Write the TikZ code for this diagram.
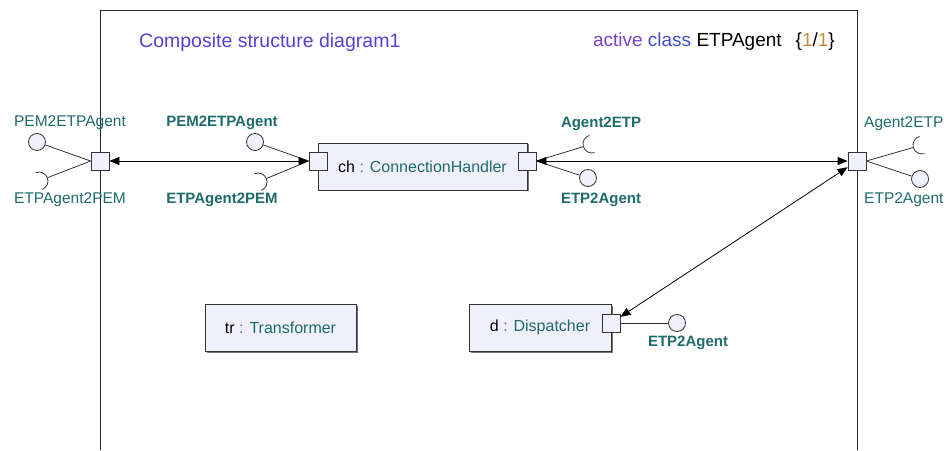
\documentclass[tikz,border=0pt]{standalone}
\usepackage{fontspec}
\setmainfont{Liberation Sans}
\usepackage{xcolor}
\usetikzlibrary{arrows.meta, calc, shadows}

\definecolor{lbl}{HTML}{1E6B6B}
\definecolor{ttl}{HTML}{5A3ED6}
\definecolor{act}{HTML}{7B3FC8}
\definecolor{cls}{HTML}{3D4FD0}
\definecolor{num}{HTML}{C8883C}
\definecolor{colon}{HTML}{6A5ACD}
\definecolor{boxfill}{HTML}{F0F0FC}

% socket: half circle opening away from the port
\newcommand{\sock}[2]{%
  \draw[wire] let \p1=($(#2)-(#1)$), \n1={atan2(\y1,\x1)} in
    ([shift={(\n1-90:9pt)}]#1) arc[start angle=\n1-90, end angle=\n1+90, radius=9pt];}

\begin{document}
\begin{tikzpicture}[x=1pt, y=1pt,
  wire/.style = {draw=black!80, line width=0.8pt},
  conn/.style = {draw=black, line width=0.8pt, {Triangle[length=10pt,width=8pt]}-{Triangle[length=10pt,width=8pt]}},
  part/.style = {draw=black!80, line width=0.8pt, fill=boxfill, inner sep=0pt,
                 drop shadow={shadow xshift=1.5pt, shadow yshift=-1.5pt, fill=black!55, opacity=1},
                 font=\fontsize{16}{19}\selectfont},
  port/.style = {draw=black!80, line width=0.8pt, fill=boxfill, minimum size=18pt, inner sep=0pt,
                 drop shadow={shadow xshift=1.2pt, shadow yshift=-1.2pt, fill=black!55, opacity=1}},
  ball/.style = {draw=black!80, line width=0.8pt, fill=boxfill, circle, minimum size=17pt, inner sep=0pt},
  iname/.style = {text=lbl, font=\fontsize{15.5}{18}\selectfont, inner sep=0pt},
  inamein/.style = {text=lbl, font=\fontsize{15}{18}\selectfont\bfseries, inner sep=0pt}]
  \useasboundingbox (0,0) rectangle (949,450);

  % frame of the class
  \draw[black!85, line width=0.8pt] (100,0) -- (100,440) -- (857,440) -- (857,0);

  \node[anchor=west, text=ttl, font=\fontsize{19.5}{22}\selectfont, inner sep=0pt] (title) at (139,408) {Composite structure diagram1};
  \node[anchor=east, font=\fontsize{19}{22}\selectfont, inner sep=0pt] (kind) at (835,408)
    {\textcolor{act}{active} \textcolor{cls}{class} ETPAgent\hspace{14pt}\{\textcolor{num}{1}/\textcolor{num}{1}\}};

  % parts
  \node[part, minimum width=209pt, minimum height=47pt] (ch) at (422.5,283.5)
    {ch \textcolor{colon}{:} \textcolor{lbl}{ConnectionHandler}};
  \node[part, minimum width=151pt, minimum height=47pt] (tr) at (280.5,122.5)
    {tr \textcolor{colon}{:} \textcolor{lbl}{Transformer}};
  \node[part, minimum width=142pt, minimum height=47pt] (d) at (540,122.5)
    {d \textcolor{colon}{:} \textcolor{lbl}{Dispatcher}};

  % ports
  \node[port] (pl) at (100,289) {};
  \node[port] (pr) at (857,289) {};
  \node[port] (chL) at (318,289) {};
  \node[port] (chR) at (527,289) {};
  \node[port] (dp) at (611,127) {};

  % provided interfaces
  \node[ball] (b1) at (37,308) {};
  \node[ball] (b2) at (255,308) {};
  \node[ball] (b3) at (588,272) {};
  \node[ball] (b4) at (920,271) {};
  \node[ball] (b5) at (677,127) {};

  % required interfaces
  \coordinate (s1) at (39,269);
  \coordinate (s2) at (258,268);
  \coordinate (s3) at (592,306);
  \coordinate (s4) at (922,305);

  \draw[wire] (pl.west) -- (b1);
  \draw[wire, shorten >=9pt] (pl.west) -- (s1);
  \sock{s1}{pl.west}
  \draw[wire] (chL.west) -- (b2);
  \draw[wire, shorten >=9pt] (chL.west) -- (s2);
  \sock{s2}{chL.west}
  \draw[wire] (chR.east) -- (b3);
  \draw[wire, shorten >=9pt] (chR.east) -- (s3);
  \sock{s3}{chR.east}
  \draw[wire] (pr.east) -- (b4);
  \draw[wire, shorten >=9pt] (pr.east) -- (s4);
  \sock{s4}{pr.east}
  \draw[wire] (dp.east) -- (b5);

  % interface names
  \node[iname] (n1) at (70,327) {PEM2ETPAgent};
  \node[iname] (n2) at (70,250) {ETPAgent2PEM};
  \node[inamein] (n3) at (222,327) {PEM2ETPAgent};
  \node[inamein] (n4) at (222,250) {ETPAgent2PEM};
  \node[inamein] (n5) at (601,326) {Agent2ETP};
  \node[inamein] (n6) at (601,250) {ETP2Agent};
  \node[iname, anchor=west] (n7) at (864,326) {Agent2ETP};
  \node[iname, anchor=west] (n8) at (864,250) {ETP2Agent};
  \node[inamein] (n9) at (688,107) {ETP2Agent};

  % connectors
  \draw[conn] (pl) -- (chL);
  \draw[conn] (chR) -- (pr);
  \draw[conn] (dp) -- (pr);
\end{tikzpicture}
\end{document}
